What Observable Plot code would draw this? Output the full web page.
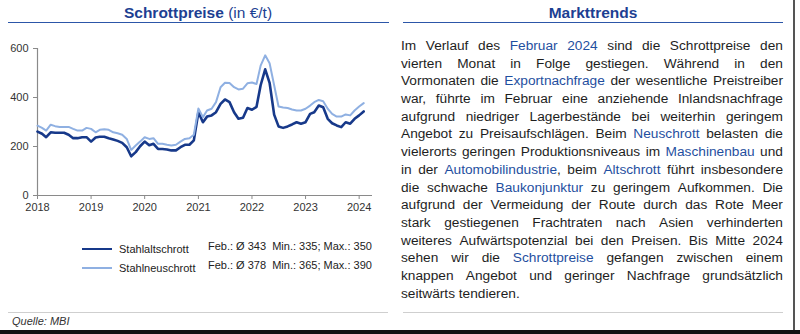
<!DOCTYPE html>
<html>
<head>
<meta charset="utf-8">
<script src="https://cdn.jsdelivr.net/npm/d3@7"></script>
<script src="https://cdn.jsdelivr.net/npm/@observablehq/plot@0.6"></script>
<style>
  html, body { margin: 0; padding: 0; background: #fff; }
  body { width: 800px; height: 334px; position: relative; overflow: hidden; font-family: "Liberation Sans", Arial, sans-serif; }
  .abs { position: absolute; }
  .title { font-size: 15.5px; color: #1d3f92; text-align: center; white-space: nowrap; }
  .title b { font-weight: bold; }
  .uline { height: 1.5px; background: #2c56a8; }
  .gline { height: 1.5px; background: #cfcfcf; }
  .txt { font-size: 13.7px; color: #1e1e1e; }
  .ln { display: flex; justify-content: space-between; height: 17.7px; line-height: 17.7px; white-space: nowrap; }
  .ln.last { justify-content: flex-start; gap: 3.8px; }
  .hl { color: #1f4fa0; }
  .leg { font-size: 11px; color: #222; white-space: pre; }
</style>
</head>
<body>
<div id="root"></div>
<script>
// ---- data ----
const startMonth = "2018-01-01";
const years = [2018, 2019, 2020, 2021, 2022, 2023, 2024];
const yTicks = [0, 200, 400, 600];
const stahlaltschrott = [
  261, 252, 238, 258, 256, 256, 256, 248, 234, 234, 238, 238,
  220, 237, 240, 240, 234, 229, 223, 215, 197, 160, 177, 201,
  220, 205, 211, 190, 190, 188, 184, 184, 197, 207, 207, 225,
  340, 299, 322, 327, 340, 374, 392, 381, 340, 313, 317, 357,
  350, 362, 450, 515, 460, 330, 282, 276, 282, 290, 299, 293,
  299, 333, 340, 367, 360, 313, 295, 286, 279, 299, 293, 313,
  327, 343
];
const stahlneuschrott = [
  285, 276, 265, 289, 283, 280, 280, 280, 272, 265, 265, 276,
  272, 258, 268, 270, 268, 258, 254, 248, 231, 186, 204, 220,
  238, 231, 234, 211, 211, 207, 204, 207, 220, 231, 234, 248,
  355, 320, 347, 354, 381, 442, 460, 459, 442, 433, 436, 458,
  461, 455, 530, 572, 540, 450, 363, 359, 357, 351, 347, 347,
  354, 367, 381, 390, 385, 354, 333, 322, 322, 331, 327, 347,
  363, 377
];
const seriesNames = ["Stahlaltschrott", "Stahlneuschrott"];
const seriesColors = ["#17398a", "#8fb0e2"];
const seriesWidths = [2.6, 2];
const seriesStats = ["Feb.: Ø 343  Min.: 335; Max.: 350", "Feb.: Ø 378  Min.: 365; Max.: 390"];
const chartTitleBold = "Schrottpreise";
const chartTitleRest = " (in €/t)";
const sideTitle = "Markttrends";
const source = "Quelle: MBI";
// text lines; [..] marks highlighted words
const textLines = [
  "Im Verlauf des [Februar] [2024] sind die Schrottpreise den",
  "vierten Monat in Folge gestiegen. Während in den",
  "Vormonaten die [Exportnachfrage] der wesentliche Preistreiber",
  "war, führte im Februar eine anziehende Inlandsnachfrage",
  "aufgrund niedriger Lagerbestände bei weiterhin geringem",
  "Angebot zu Preisaufschlägen. Beim [Neuschrott] belasten die",
  "vielerorts geringen Produktionsniveaus im [Maschinenbau] und",
  "in der [Automobilindustrie], beim [Altschrott] führt insbesondere",
  "die schwache [Baukonjunktur] zu geringem Aufkommen. Die",
  "aufgrund der Vermeidung der Route durch das Rote Meer",
  "stark gestiegenen Frachtraten nach Asien verhinderten",
  "weiteres Aufwärtspotenzial bei den Preisen. Bis Mitte 2024",
  "sehen wir die [Schrottpreise] gefangen zwischen einem",
  "knappen Angebot und geringer Nachfrage grundsätzlich",
  "seitwärts tendieren."
];

// ---- build ----
const root = document.getElementById("root");
function add(html, style, cls) {
  const d = document.createElement("div");
  d.className = "abs " + (cls || "");
  d.setAttribute("style", style);
  d.innerHTML = html;
  root.appendChild(d);
  return d;
}

const t0 = new Date(startMonth);
const rows = [];
[stahlaltschrott, stahlneuschrott].forEach((arr, s) => {
  arr.forEach((v, i) => rows.push({date: d3.utcMonth.offset(t0, i), value: v, series: seriesNames[s]}));
});
const xEnd = d3.utcMonth.offset(t0, stahlaltschrott.length + 1);

// titles
add(`<b>${chartTitleBold}</b>${chartTitleRest}`, "left:8px;width:380px;top:4px;", "title");
add(`<b>${sideTitle}</b>`, "left:403px;width:380px;top:4px;", "title");
add("", "left:8px;width:381px;top:21.5px;", "uline");
add("", "left:403px;width:380px;top:21.5px;", "uline");

// chart
const plot = Plot.plot({
  width: 390,
  height: 180,
  marginLeft: 37,
  marginRight: 18,
  marginTop: 10,
  marginBottom: 23,
  style: {fontFamily: "'Liberation Sans', Arial, sans-serif", fontSize: "11px", color: "#333", background: "transparent"},
  x: {type: "utc", domain: [t0, xEnd]},
  y: {domain: [0, 600]},
  marks: [
    Plot.ruleY([0], {stroke: "#8a8a8a", strokeWidth: 1.2}),
    Plot.ruleX([t0], {stroke: "#8a8a8a", strokeWidth: 1.2}),
    Plot.axisX({ticks: years.map(y => new Date(`${y}-01-01`)), tickFormat: d3.utcFormat("%Y"), tickSize: 4, tickPadding: 4, stroke: "#8a8a8a", fill: "#333", label: null}),
    Plot.axisY({ticks: yTicks, tickSize: 4, tickPadding: 5, stroke: "#8a8a8a", fill: "#333", label: null}),
    ...seriesNames.map((name, s) =>
      Plot.line(rows.filter(r => r.series === name), {x: "date", y: "value", stroke: seriesColors[s], strokeWidth: seriesWidths[s], curve: "linear", strokeLinejoin: "round"})
    )
  ]
});
const holder = add("", "left:0px;top:38px;");
holder.appendChild(plot);

// legend
seriesNames.forEach((name, s) => {
  const top = 242.5 + s * 19;
  add("", `left:82px;top:${top + 6.5 - seriesWidths[s] / 2}px;width:30px;height:${seriesWidths[s]}px;background:${seriesColors[s]};`);
  add(name, `left:119px;top:${top}px;`, "leg");
  add(seriesStats[s], `left:208px;top:${top - 3}px;`, "leg");
});

// separators and source
add("", "left:8px;width:380px;top:311.5px;", "gline");
add("", "left:403px;width:380px;top:311.5px;", "gline");
add(source, "left:12px;top:315px;font-size:11px;font-style:italic;color:#333;");

// body text
const box = add("", "left:401px;top:37px;width:382px;", "txt");
textLines.forEach((line, k) => {
  const div = document.createElement("div");
  div.className = "ln" + (k === textLines.length - 1 ? " last" : "");
  const words = line.split(" ");
  div.innerHTML = words.map(w => {
    const m = w.match(/^\[(.+)\](.*)$/);
    return m ? `<span><span class="hl">${m[1]}</span>${m[2]}</span>` : `<span>${w}</span>`;
  }).join("");
  box.appendChild(div);
});

// frame edges
add("", "left:0;top:330px;width:800px;height:4px;background:#111;");
add("", "left:793px;top:0;width:1.5px;height:330px;background:#555;");
</script>
</body>
</html>
